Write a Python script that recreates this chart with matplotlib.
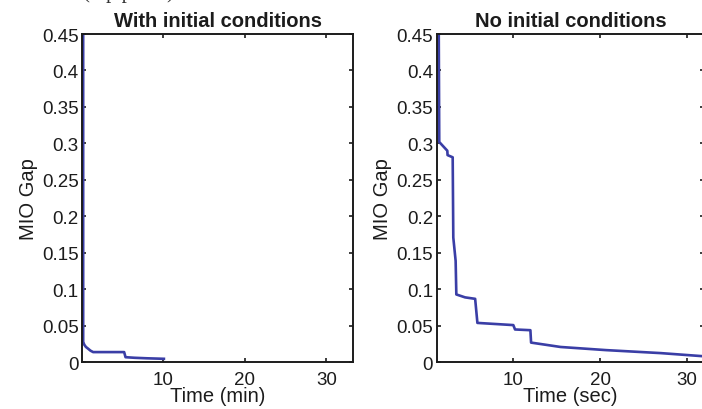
import numpy as np
import matplotlib
matplotlib.use('Agg')
from matplotlib import pyplot as plt

# with initial conditions (time in minutes)
t_init = [0.21, 0.21, 0.35, 0.55, 0.82, 1.1, 1.43, 5.23, 5.4, 6.5, 8.0, 10.1]
gap_init = [0.46, 0.028, 0.024, 0.021, 0.0186, 0.016, 0.014, 0.014, 0.007, 0.0062, 0.0055, 0.0048]

# no initial conditions (time in seconds)
t_none = [1.4, 1.46, 2.39, 2.42, 3.01, 3.08, 3.35, 3.43, 4.44, 5.6, 5.86, 10.0, 10.2,
          11.97, 12.05, 15.45, 20.7, 27.0, 31.7, 33.0]
gap_none = [0.46, 0.302, 0.290, 0.284, 0.281, 0.171, 0.139, 0.093, 0.089, 0.087, 0.054, 0.051, 0.045,
            0.044, 0.027, 0.021, 0.0167, 0.0126, 0.0085, 0.0075]

y_ticks = [0, 0.05, 0.1, 0.15, 0.2, 0.25, 0.3, 0.35, 0.4, 0.45]
y_labels = ['0', '0.05', '0.1', '0.15', '0.2', '0.25', '0.3', '0.35', '0.4', '0.45']
x_ticks = [10, 20, 30]

titles = ['With initial conditions', 'No initial conditions']
x_labels = ['Time (min)', 'Time (sec)']

plt.rcParams['font.family'] = ['Liberation Sans', 'DejaVu Sans']
line_col = '#3a3ea6'
ink = '#1c1c1c'

fig = plt.figure(figsize=(7.02, 4.10), dpi=100)
ax1 = fig.add_axes([0.1172, 0.1139, 0.386, 0.8007])
ax2 = fig.add_axes([0.622, 0.1139, 0.381, 0.8007])

# cropped caption text from the page above the figure
fig.text(0.118, 1.006, '(top panel)', family='Liberation Serif', fontsize=15,
         va='baseline', ha='left', color='#333333')

for ax, t, g, title, xl, xlim in [
        (ax1, t_init, gap_init, titles[0], x_labels[0], (0.1, 33.3)),
        (ax2, t_none, gap_none, titles[1], x_labels[1], (1.16, 32.0))]:
    ax.plot(t, g, color=line_col, lw=1.9)
    ax.set_xlim(*xlim)
    ax.set_ylim(0, 0.45)
    ax.set_yticks(y_ticks)
    ax.set_yticklabels(y_labels)
    ax.set_xticks(x_ticks)
    ax.tick_params(direction='in', length=3, width=1.2, top=True, right=True,
                   labelsize=13.5, colors=ink)
    ax.tick_params(axis='y', pad=2.5)
    ax.tick_params(axis='x', pad=6)
    for s in ax.spines.values():
        s.set_linewidth(1.4)
        s.set_color(ink)
    ax.set_title(title, fontsize=14.5, fontweight='bold', pad=6, color=ink)
    ax.set_xlabel(xl, fontsize=14.5, labelpad=-1, color=ink)
    ax.set_ylabel('MIO Gap', fontsize=14.5, labelpad=3, color=ink)

fig.savefig('out.png', dpi=100)
